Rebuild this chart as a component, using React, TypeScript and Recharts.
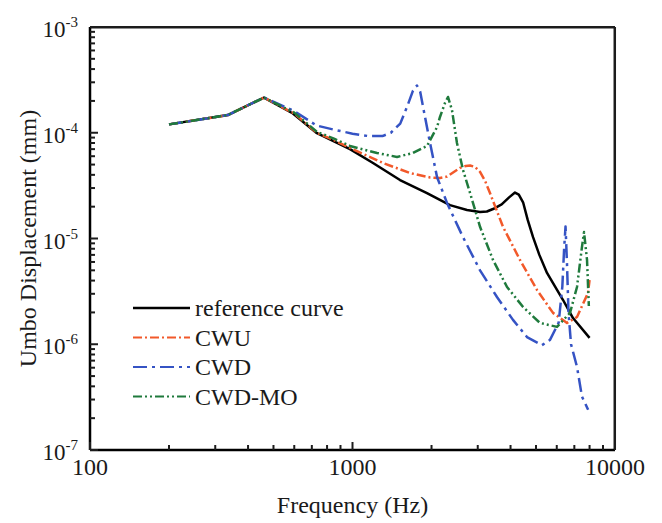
import React from 'react';
import { LineChart, Line, XAxis, YAxis, Legend, ReferenceLine } from 'recharts';

// ---- data (frequency in Hz, displacement in mm) ----
const refFreq = [200, 335, 460, 593, 732, 978, 1197, 1517, 1922, 2351, 2730, 3061, 3250, 3430, 3700, 3950, 4159, 4300, 4465, 4650, 4873, 5150, 5508, 6341, 6918, 8000];
const refVals = [1.2e-4, 1.47e-4, 2.15e-4, 1.52e-4, 9.9e-5, 7.0e-5, 5.18e-5, 3.57e-5, 2.69e-5, 2.07e-5, 1.86e-5, 1.78e-5, 1.8e-5, 1.9e-5, 2.1e-5, 2.45e-5, 2.72e-5, 2.6e-5, 2.2e-5, 1.5e-5, 1.03e-5, 7.0e-6, 4.72e-6, 2.62e-6, 1.77e-6, 1.15e-6];

const cwuFreq = [200, 335, 460, 600, 732, 850, 978, 1306, 1656, 1974, 2154, 2291, 2570, 2700, 2805, 2930, 3061, 3200, 3340, 3744, 4345, 5045, 5806, 6563, 7166, 7889, 8000];
const cwuVals = [1.2e-4, 1.47e-4, 2.15e-4, 1.52e-4, 1.0e-4, 8.5e-5, 7.2e-5, 5.18e-5, 4.16e-5, 3.78e-5, 3.73e-5, 3.85e-5, 4.65e-5, 4.85e-5, 4.9e-5, 4.75e-5, 4.26e-5, 3.5e-5, 2.69e-5, 1.29e-5, 6.27e-6, 3.26e-6, 1.98e-6, 1.59e-6, 1.81e-6, 3.05e-6, 4.05e-6];

const cwdFreq = [200, 335, 460, 600, 730, 850, 1000, 1150, 1300, 1400, 1520, 1620, 1700, 1760, 1810, 1890, 1974, 2100, 2291, 2636, 3061, 3551, 4087, 4621, 5272, 5654, 6100, 6300, 6400, 6480, 6560, 6650, 6800, 7166, 7484, 7900];
const cwdVals = [1.2e-4, 1.47e-4, 2.15e-4, 1.6e-4, 1.17e-4, 1.07e-4, 9.8e-5, 9.3e-5, 9.3e-5, 1.0e-4, 1.22e-4, 1.8e-4, 2.5e-4, 2.8e-4, 2.45e-4, 1.4e-4, 8.0e-5, 3.8e-5, 2.17e-5, 1.03e-5, 5.0e-6, 2.8e-6, 1.7e-6, 1.17e-6, 9.8e-7, 1.1e-6, 1.6e-6, 3.5e-6, 8.0e-6, 1.3e-5, 6.0e-6, 2.0e-6, 1.0e-6, 6.1e-7, 3.2e-7, 2.4e-7];

const cwdmoFreq = [200, 335, 460, 600, 732, 850, 978, 1240, 1478, 1700, 1922, 2099, 2154, 2250, 2311, 2393, 2500, 2636, 2805, 3061, 3430, 3879, 4465, 5179, 6012, 6740, 7166, 7484, 7621, 7824, 7950];
const cwdmoVals = [1.2e-4, 1.47e-4, 2.15e-4, 1.55e-4, 1.02e-4, 8.8e-5, 7.5e-5, 6.44e-5, 5.9e-5, 6.44e-5, 7.5e-5, 1.13e-4, 1.41e-4, 1.91e-4, 2.18e-4, 1.64e-4, 8.0e-5, 4.45e-5, 2.69e-5, 1.29e-5, 6.27e-6, 3.48e-6, 2.25e-6, 1.59e-6, 1.46e-6, 1.98e-6, 3.48e-6, 8.3e-6, 1.15e-5, 6.27e-6, 2.3e-6];

const xTicks = [100, 200, 300, 400, 500, 600, 700, 800, 900, 1000, 2000, 3000, 4000, 5000, 6000, 7000, 8000, 9000, 10000];
const xMajor = [100, 1000, 10000];
const yTicks = [
  1e-7, 2e-7, 3e-7, 4e-7, 5e-7, 6e-7, 7e-7, 8e-7, 9e-7,
  1e-6, 2e-6, 3e-6, 4e-6, 5e-6, 6e-6, 7e-6, 8e-6, 9e-6,
  1e-5, 2e-5, 3e-5, 4e-5, 5e-5, 6e-5, 7e-5, 8e-5, 9e-5,
  1e-4, 2e-4, 3e-4, 4e-4, 5e-4, 6e-4, 7e-4, 8e-4, 9e-4,
  1e-3,
];
const yMajor = [1e-7, 1e-6, 1e-5, 1e-4, 1e-3];
const yExponents = ['-7', '-6', '-5', '-4', '-3'];

const seriesNames = ['reference curve', 'CWU', 'CWD', 'CWD-MO'];
const xTitle = 'Frequency (Hz)';
const yTitle = 'Umbo Displacement (mm)';

const zip = (f: number[], v: number[]) => f.map((x, i) => ({ f: x, v: v[i] }));
const refData = zip(refFreq, refVals);
const cwuData = zip(cwuFreq, cwuVals);
const cwdData = zip(cwdFreq, cwdVals);
const cwdmoData = zip(cwdmoFreq, cwdmoVals);

const SERIF = 'Liberation Serif';
const INK = '#1c1c1c';

const colors = ['#000000', '#f2592a', '#3553c4', '#1f7a3c'];
const dashes = ['', '9 3 2 3', '14 5 3 5', '9 3 2 3 2 3'];

function renderXTick(props: any) {
  const x = props.x;
  const y = props.y;
  const value = props.payload.value;
  const major = xMajor.some((m) => Math.abs(m - value) / m < 1e-6);
  return (
    <g key={'xt' + value}>
      <path d={`M${x},${y}V${y - (major ? 8 : 5)}`} stroke={INK} strokeWidth={2} fill="none" />
      {major ? (
        <text x={x} y={y + 25} textAnchor="middle" fontFamily={SERIF} fontSize={24} fill="#1a1a1a">
          {String(value)}
        </text>
      ) : null}
    </g>
  );
}

function renderYTick(props: any) {
  const x = props.x;
  const y = props.y;
  const value = props.payload.value;
  const idx = yMajor.findIndex((m) => Math.abs(m - value) / m < 1e-6);
  return (
    <g key={'yt' + value}>
      <path d={`M${x},${y}H${x + (idx >= 0 ? 8 : 5)}`} stroke={INK} strokeWidth={2} fill="none" />
      {idx >= 0 ? (
        <text x={x - 12} y={y + 10} textAnchor="end" fontFamily={SERIF} fontSize={23} fill="#1a1a1a">
          10
          <tspan dy={-10} fontSize={15}>{yExponents[idx]}</tspan>
        </text>
      ) : null}
    </g>
  );
}

function renderLegend() {
  return (
    <svg width={260} height={125} style={{ display: 'block' }}>
      {seriesNames.map((name, i) => {
        const cy = 18 + i * 29.5;
        return (
          <g key={name}>
            <line x1={8} x2={65} y1={cy} y2={cy} stroke={colors[i]} strokeWidth={i === 0 ? 2.5 : 2} strokeDasharray={dashes[i] || undefined} />
            <text x={70} y={cy + 8} fontFamily={SERIF} fontSize={24} fill="#1a1a1a">{name}</text>
          </g>
        );
      })}
    </svg>
  );
}

function renderXLabel(p: any) {
  const vb = p.viewBox;
  return (
    <text x={vb.x + vb.width / 2} y={vb.y + 63} textAnchor="middle" fontFamily={SERIF} fontSize={24} fill="#1a1a1a">
      {xTitle}
    </text>
  );
}

function renderYLabel(p: any) {
  const vb = p.viewBox;
  const cx = 28;
  const cy = vb.y + vb.height / 2;
  return (
    <text x={cx} y={cy} transform={`rotate(-90 ${cx} ${cy})`} textAnchor="middle" dominantBaseline="central" fontFamily={SERIF} fontSize={24} fill="#1a1a1a">
      {yTitle}
    </text>
  );
}

export default function App() {
  return (
    <div style={{ position: 'absolute', left: 0, top: 0, background: '#ffffff' }}>
      <LineChart width={662} height={523} margin={{ top: 27, right: 47, bottom: 0, left: 0 }}>
        <XAxis dataKey="f" type="number" scale="log" domain={[100, 10000]} allowDataOverflow ticks={xTicks} interval={0} tickSize={0} tickMargin={0} tick={renderXTick} height={73} axisLine={{ stroke: '#000', strokeWidth: 2.5 }} tickLine={false} label={renderXLabel} />
        <YAxis type="number" scale="log" domain={[1e-7, 1e-3]} allowDataOverflow ticks={yTicks} interval={0} tickSize={0} tickMargin={0} tick={renderYTick} width={90} axisLine={{ stroke: '#000', strokeWidth: 2.5 }} tickLine={false} label={renderYLabel} />
        <ReferenceLine x={9980} stroke={INK} strokeWidth={2.5} />
        <ReferenceLine y={0.000995} stroke={INK} strokeWidth={2.5} />
        <Legend layout="horizontal" verticalAlign="middle" align="center" content={renderLegend} wrapperStyle={{ left: 125, top: 290, width: 260, height: 125 }} />
        <Line data={refData} dataKey="v" name={seriesNames[0]} type="linear" stroke={colors[0]} strokeWidth={2.5} dot={false} isAnimationActive={false} strokeLinejoin="round" />
        <Line data={cwuData} dataKey="v" name={seriesNames[1]} type="linear" stroke={colors[1]} strokeWidth={2.5} strokeDasharray={dashes[1]} dot={false} isAnimationActive={false} strokeLinejoin="round" />
        <Line data={cwdData} dataKey="v" name={seriesNames[2]} type="linear" stroke={colors[2]} strokeWidth={2.5} strokeDasharray={dashes[2]} dot={false} isAnimationActive={false} strokeLinejoin="round" />
        <Line data={cwdmoData} dataKey="v" name={seriesNames[3]} type="linear" stroke={colors[3]} strokeWidth={2.5} strokeDasharray={dashes[3]} dot={false} isAnimationActive={false} strokeLinejoin="round" />
      </LineChart>
    </div>
  );
}
